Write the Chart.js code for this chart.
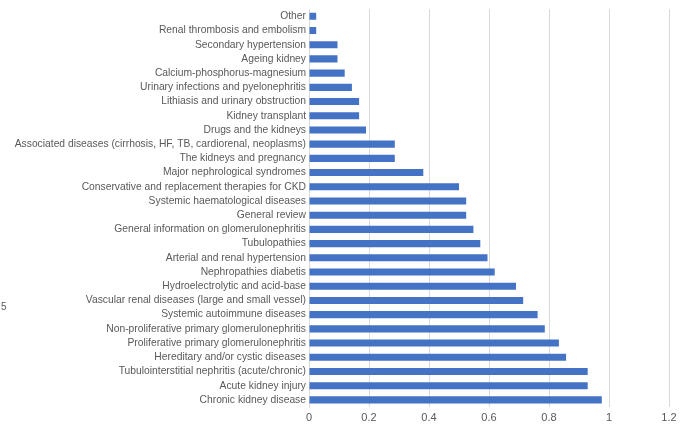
<!DOCTYPE html>
<html>
<head>
<meta charset="utf-8">
<script src="https://cdn.jsdelivr.net/npm/chart.js@4"></script>
<style>
html,body{margin:0;padding:0;background:#fff;}
#wrap{position:relative;width:691px;height:426px;}
</style>
</head>
<body>
<div id="wrap"><canvas id="c"></canvas></div>
<script>
const categories = [
  "Other",
  "Renal thrombosis and embolism",
  "Secondary hypertension",
  "Ageing kidney",
  "Calcium-phosphorus-magnesium",
  "Urinary infections and pyelonephritis",
  "Lithiasis and urinary obstruction",
  "Kidney transplant",
  "Drugs and the kidneys",
  "Associated diseases (cirrhosis, HF, TB, cardiorenal, neoplasms)",
  "The kidneys and pregnancy",
  "Major nephrological syndromes",
  "Conservative and replacement therapies for CKD",
  "Systemic haematological diseases",
  "General review",
  "General information on glomerulonephritis",
  "Tubulopathies",
  "Arterial and renal hypertension",
  "Nephropathies diabetis",
  "Hydroelectrolytic and acid-base",
  "Vascular renal diseases (large and small vessel)",
  "Systemic autoimmune diseases",
  "Non-proliferative primary glomerulonephritis",
  "Proliferative primary glomerulonephritis",
  "Hereditary and/or cystic diseases",
  "Tubulointerstitial nephritis (acute/chronic)",
  "Acute kidney injury",
  "Chronic kidney disease"
];
const values = [
  0.024, 0.024, 0.095, 0.095, 0.119, 0.143, 0.167, 0.167, 0.190,
  0.286, 0.286, 0.381, 0.500, 0.524, 0.524, 0.548, 0.571, 0.595, 0.619,
  0.690, 0.714, 0.762, 0.786, 0.833, 0.857, 0.929, 0.929, 0.976
];
const xTicks = [0, 0.2, 0.4, 0.6, 0.8, 1, 1.2];
const sideLabel = "5";

const sidePlugin = {
  id: 'side',
  afterDraw(chart) {
    const ctx = chart.ctx;
    ctx.save();
    ctx.fillStyle = '#595959';
    ctx.font = '10px "Liberation Sans", Arial, sans-serif';
    ctx.textBaseline = 'middle';
    ctx.fillText(sideLabel, 1, 307);
    ctx.restore();
  }
};

new Chart(document.getElementById('c'), {
  type: 'bar',
  data: {
    labels: categories,
    datasets: [{
      data: values,
      backgroundColor: '#4472C4',
      borderWidth: 0,
      barPercentage: 0.5,
      categoryPercentage: 1.0
    }]
  },
  options: {
    indexAxis: 'y',
    responsive: true,
    maintainAspectRatio: false,
    animation: false,
    devicePixelRatio: 1,
    layout: { padding: { top: 7, right: 22, bottom: 0, left: 0 } },
    plugins: { legend: { display: false }, tooltip: { enabled: false } },
    scales: {
      x: {
        min: 0, max: 1.2,
        afterBuildTicks(scale) { scale.ticks = xTicks.map(v => ({ value: v })); },
        afterFit(scale) { scale.height = 19; },
        grid: { color: '#d9d9d9', drawTicks: false, lineWidth: 1 },
        border: { display: false },
        ticks: {
          color: '#595959',
          padding: 4,
          font: { family: '"Liberation Sans", Arial, sans-serif', size: 11 },
          callback: v => String(v)
        }
      },
      y: {
        afterFit(scale) { scale.width = 309; },
        grid: { display: false, drawTicks: false },
        border: { display: true, color: '#d9d9d9' },
        ticks: {
          color: '#595959',
          padding: 3,
          autoSkip: false,
          font: { family: '"Liberation Sans", Arial, sans-serif', size: 10.3 }
        }
      }
    }
  },
  plugins: [sidePlugin]
});
</script>
</body>
</html>
